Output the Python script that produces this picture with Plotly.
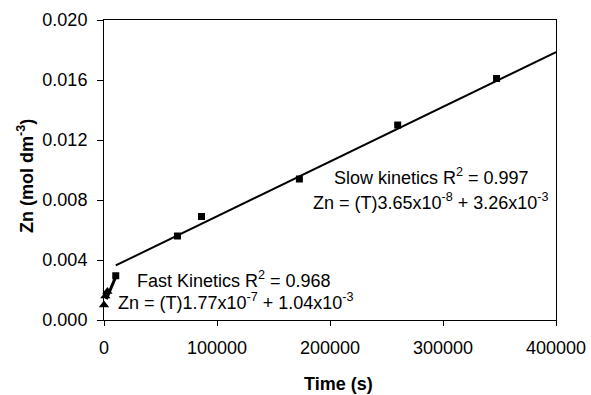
import plotly.graph_objects as go

# Slow kinetics data (time s, Zn mol dm-3)
slow_t = [10400, 65000, 86300, 172900, 259900, 347400]
slow_zn = [0.00295, 0.0056, 0.0069, 0.0094, 0.0130, 0.0161]
# Fast kinetics early points (triangles)
fast_t = [0, 1200, 3000]
fast_zn = [0.0010, 0.0016, 0.0019]
# Fit parameters
slow_slope, slow_int = 3.65e-8, 3.26e-3
fast_slope, fast_int = 1.77e-7, 1.04e-3
slow_fit_t = [10400, 400000]
fast_fit_t = [2000, 10400]

x_ticks = [0, 100000, 200000, 300000, 400000]
y_ticks = [0.000, 0.004, 0.008, 0.012, 0.016, 0.020]

font = "Liberation Sans, Arial, sans-serif"
FS = 18
L, R, T, B = 104, 35, 20, 75
W, H = 591, 395
PW, PH = W - L - R, H - T - B

fig = go.Figure()
fig.add_trace(go.Scatter(x=slow_fit_t, y=[slow_slope * t + slow_int for t in slow_fit_t],
                         mode="lines", line=dict(color="black", width=2), showlegend=False))
fig.add_trace(go.Scatter(x=fast_fit_t, y=[fast_slope * t + fast_int for t in fast_fit_t],
                         mode="lines", line=dict(color="black", width=3), showlegend=False))
fig.add_trace(go.Scatter(x=slow_t, y=slow_zn, mode="markers",
                         marker=dict(symbol="square", size=7, color="black"), showlegend=False))
fig.add_trace(go.Scatter(x=fast_t, y=fast_zn, mode="markers",
                         marker=dict(symbol="triangle-up", size=9, color="black"),
                         cliponaxis=False, showlegend=False))

def ann(x, y, text, xanchor="left"):
    fig.add_annotation(x=x, y=y, xref="x", yref="y", text=text, showarrow=False,
                       xanchor=xanchor, yanchor="middle",
                       font=dict(family=font, size=FS, color="black"))

ann(27000, 0.00268, "Fast Kinetics R<sup>2</sup> = 0.968")
ann(10600, 0.00122, "Zn = (T)1.77x10<sup>-7</sup> + 1.04x10<sup>-3</sup>")
ann(289800, 0.00955, "Slow kinetics R<sup>2</sup> = 0.997", xanchor="center")
ann(289400, 0.00790, "Zn = (T)3.65x10<sup>-8</sup> + 3.26x10<sup>-3</sup>", xanchor="center")

# axis titles placed in paper coordinates (pixel positions converted)
fig.add_annotation(x=(338 - L) / PW, y=(H - B - 384) / PH, xref="paper", yref="paper",
                   text="<b>Time (s)</b>", showarrow=False, xanchor="center", yanchor="middle",
                   font=dict(family=font, size=FS, color="black"))
fig.add_annotation(x=(25 - L) / PW, y=(H - B - 176) / PH, xref="paper", yref="paper",
                   text="<b>Zn (mol dm<sup>-3</sup>)</b>", showarrow=False, textangle=-90,
                   xanchor="center", yanchor="middle",
                   font=dict(family=font, size=FS, color="black"))

fig.update_layout(
    width=W, height=H,
    margin=dict(l=L, r=R, t=T, b=B, autoexpand=False),
    paper_bgcolor="white", plot_bgcolor="white",
    font=dict(family=font, size=FS, color="black"),
    xaxis=dict(range=[0, 400000], tickvals=x_ticks, ticktext=[str(v) for v in x_ticks],
               showgrid=False, zeroline=False, showline=True, linecolor="black", linewidth=1,
               mirror=True, ticks="outside", ticklen=5, tickcolor="black",
               ticklabelstandoff=6, automargin=False),
    yaxis=dict(range=[0, 0.020], tickvals=y_ticks, ticktext=[f"{v:.3f}" for v in y_ticks],
               showgrid=False, zeroline=False, showline=True, linecolor="black", linewidth=1,
               mirror=True, ticks="outside", ticklen=6, tickcolor="black",
               ticklabelstandoff=6, automargin=False),
)

fig.write_html("out.html")
